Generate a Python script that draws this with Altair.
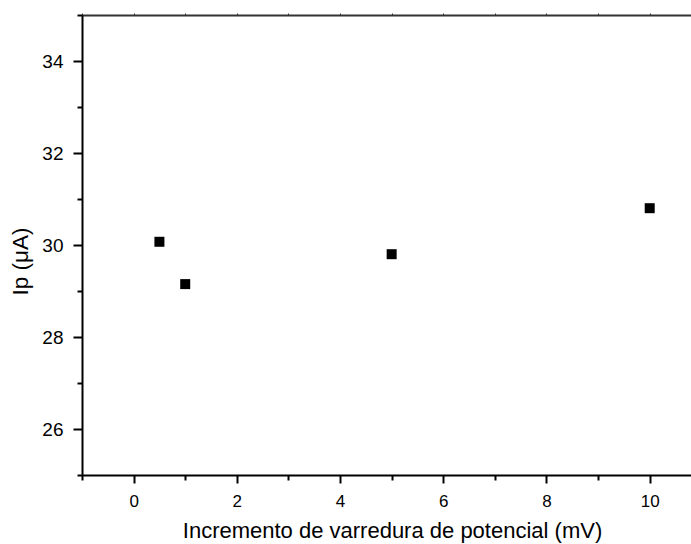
import altair as alt
import pandas as pd

# data
increment_mV = [0.5, 1, 5, 10]
ip_uA = [30.07, 29.15, 29.80, 30.80]

x_ticks = list(range(-1, 11))
y_ticks = list(range(25, 36))

df = pd.DataFrame({"x": increment_mV, "y": ip_uA})

FONT = "Liberation Sans"
major_test = "datum.value % 2 === 0"

x_scale = alt.Scale(domain=[-1, 10.8], nice=False, zero=False)
y_scale = alt.Scale(domain=[25, 35], nice=False, zero=False)

points = alt.Chart(df).mark_square(size=100, color="black", opacity=1).encode(
    x=alt.X("x:Q", scale=x_scale,
            axis=alt.Axis(
                title="Incremento de varredura de potencial (mV)",
                values=x_ticks,
                labelExpr=f"{major_test} ? datum.label : ''",
                tickSize={"condition": {"test": major_test, "value": 8}, "value": 5},
                tickWidth=2, tickColor="black",
                domainWidth=2, domainColor="black",
                labelFontSize=17, labelFont=FONT, labelColor="black",
                labelPadding=10,
                titleFontSize=22, titleFont=FONT, titleFontWeight="normal",
                titleColor="black", titlePadding=11, titleX=310,
                grid=False, labelFlush=False, labelOverlap=False,
            )),
    y=alt.Y("y:Q", scale=y_scale,
            axis=alt.Axis(
                title="Ip (\u03bcA)",
                values=y_ticks,
                labelExpr=f"{major_test} ? datum.label : ''",
                tickSize={"condition": {"test": major_test, "value": 9}, "value": 5},
                tickWidth=2, tickColor="black",
                domainWidth=2, domainColor="black",
                labelFontSize=19, labelFont=FONT, labelColor="black",
                labelPadding=10,
                titleFontSize=22.5, titleFont=FONT, titleFontWeight="normal",
                titleColor="black", titlePadding=9, titleY=246,
                grid=False, labelFlush=False, labelOverlap=False,
            )),
)

top = alt.Chart(df).mark_point(opacity=0).encode(
    x=alt.X("x:Q", scale=x_scale,
            axis=alt.Axis(orient="top", title=None, labels=False,
                          values=x_ticks, tickSize=2, tickWidth=1,
                          tickColor="#333333", domainWidth=2,
                          domainColor="#333333", grid=False)),
    y=alt.Y("y:Q", scale=y_scale),
)

chart = alt.layer(points, top).resolve_axis(x="independent").properties(
    width=609, height=460,
    autosize=alt.AutoSizeParams(type="none"),
    padding={"left": 82, "top": 15, "right": 0, "bottom": 69},
    background="white",
).configure_view(stroke=None)

chart.save("out.html", embed_options={"renderer": "svg", "actions": False})
